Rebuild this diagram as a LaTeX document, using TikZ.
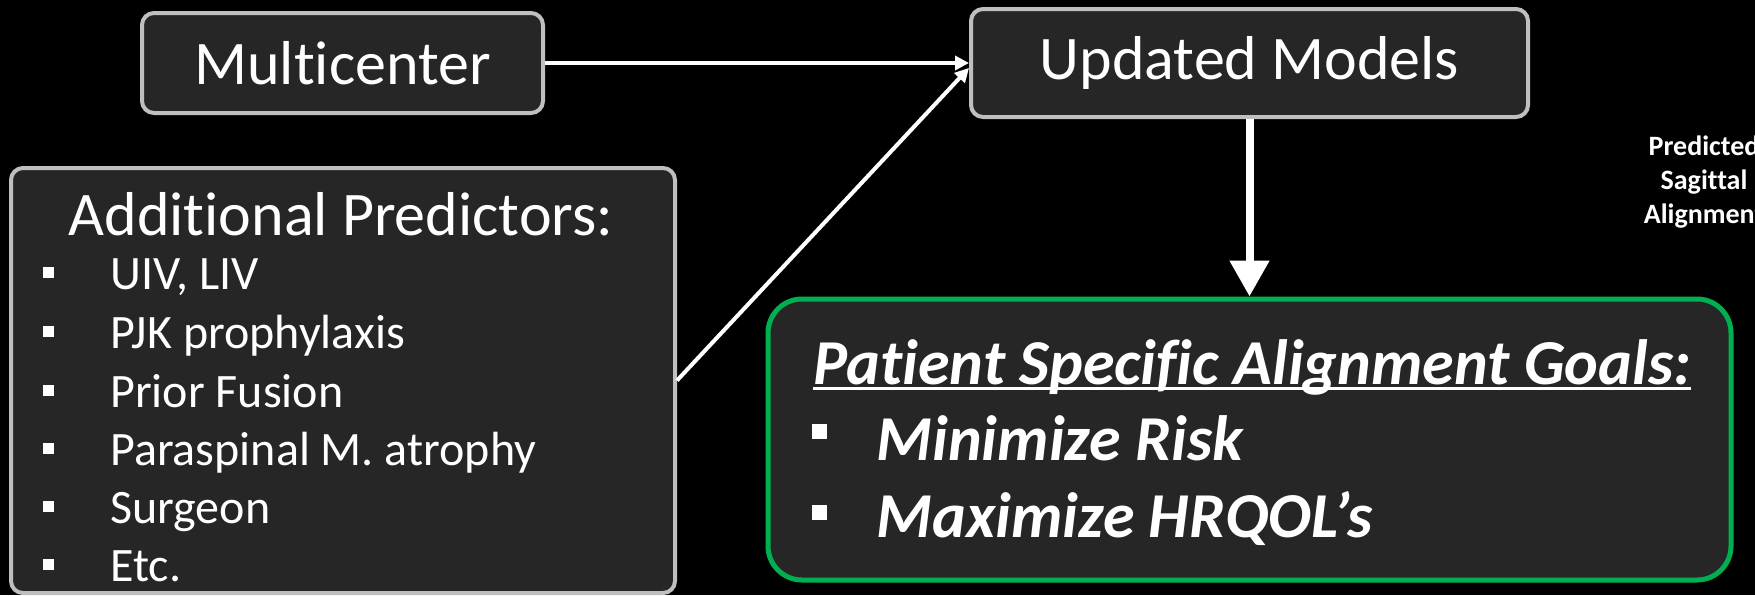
\documentclass[tikz,border=0pt]{standalone}
\usepackage{fontspec}
\setmainfont{Carlito}[Ligatures=NoCommon]
\usepackage{xcolor}
\usepackage{tikz}
\usetikzlibrary{arrows.meta}
\usetikzlibrary{positioning}
\definecolor{boxfill}{HTML}{262626}
\definecolor{boxline}{HTML}{BFBFBF}
\definecolor{goalline}{HTML}{00B050}
\def\bigfont{\fontsize{31}{36}\selectfont}
\def\goalfont{\fontsize{32}{38}\selectfont}
\def\itemfont{\fontsize{24}{28}\selectfont}
\newsavebox\ulbox
\def\goalul#1{\sbox\ulbox{#1}\rlap{\rule[-3.2pt]{\wd\ulbox}{1.6pt}}\usebox\ulbox}

\begin{document}
\begin{tikzpicture}[x=0.5pt, y=-0.5pt,
    box/.style={draw=boxline, fill=boxfill, line width=2pt, rounded corners=6pt, text=white, font=\bigfont},
    bul/.style={fill=white, inner sep=0pt, minimum size=#1},
    itm/.style={anchor=base west, text=white, inner sep=0pt, font=\itemfont},
    goal/.style={anchor=base west, text=white, inner sep=0pt, font=\goalfont\bfseries\itshape}]
    \fill[black] (0,0) rectangle (1755,595);
    \useasboundingbox (0,0) rectangle (1755,595);

    \node[box, minimum width=200.5pt, minimum height=50pt] (mc) at (342.5,63) {Multicenter};
    \node[box, minimum width=278.5pt, minimum height=54pt] (um) at (1249.5,63) {Updated Models};
    \node[box, minimum width=332pt, minimum height=212.5pt] (ap) at (343,380.5) {};
    \node[box, draw=goalline, line width=2.5pt, rounded corners=17pt, minimum width=481.5pt, minimum height=140.5pt] (gg) at (1249.5,439.5) {};

    % additional predictors
    \node[anchor=base, text=white, inner sep=0pt, font=\bigfont] (apt) at (341,235) {Additional Predictors:};
    \node[itm] (i1) at (110,289) {UIV, LIV};
    \node[itm] (i2) at (110,348) {PJK prophylaxis};
    \node[itm] (i3) at (110,407) {Prior Fusion};
    \node[itm] (i4) at (110,465) {Paraspinal M. atrophy};
    \node[itm] (i5) at (110,523) {Surgeon};
    \node[itm] (i6) at (110,581) {Etc.};
    \node[bul=5.5pt] (b1) at (48,272) {};
    \node[bul=5.5pt] (b2) at (48,331) {};
    \node[bul=5.5pt] (b3) at (48,390) {};
    \node[bul=5.5pt] (b4) at (48,448) {};
    \node[bul=5.5pt] (b5) at (48,506) {};
    \node[bul=5.5pt] (b6) at (48,564) {};

    % goals
    \node[goal] (ggt) at (813,384) {\goalul{Patient Specific Alignment Goals:}};
    \node[goal] (g1) at (876,460) {Minimize Risk};
    \node[goal] (g2) at (876,537) {Maximize HRQOL’s};
    \node[bul=7.5pt] (c1) at (819,431) {};
    \node[bul=7.5pt] (c2) at (819,512) {};

    \node[text=white, align=center, font=\bfseries\fontsize{14}{17}\selectfont] (psa) at (1704,182) {Predicted\\Sagittal\\Alignment};

    \draw[-{Triangle[length=7pt,width=7pt]}, white, line width=2pt] (mc) -- (um.west);
    \draw[-{Triangle[length=7pt,width=7pt]}, white, line width=2pt] (ap.east) -- (um.181);
    \draw[-{Triangle[length=18pt,width=19pt]}, white, line width=4pt] (um) -- (gg);
\end{tikzpicture}
\end{document}
